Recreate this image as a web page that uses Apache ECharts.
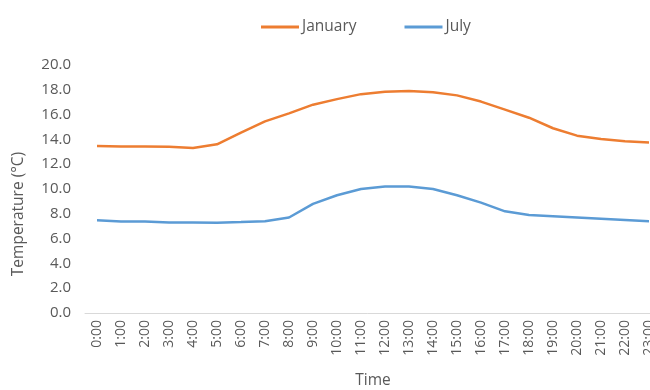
<!DOCTYPE html>
<html>
<head>
<meta charset="utf-8">
<script src="https://cdn.jsdelivr.net/npm/echarts@6/dist/echarts.min.js"></script>
<style>
  html, body { margin: 0; padding: 0; background: #ffffff; }
  #chart { width: 650px; height: 390px; }
</style>
</head>
<body>
<div id="chart"></div>
<script>
// Hourly temperatures (°C)
const hours = ['0:00','1:00','2:00','3:00','4:00','5:00','6:00','7:00','8:00','9:00','10:00','11:00',
               '12:00','13:00','14:00','15:00','16:00','17:00','18:00','19:00','20:00','21:00','22:00','23:00'];
const january = [13.47, 13.42, 13.43, 13.4, 13.3, 13.6, 14.55, 15.45, 16.1, 16.8, 17.25, 17.65,
                 17.85, 17.9, 17.8, 17.55, 17.05, 16.4, 15.75, 14.9, 14.3, 14.03, 13.85, 13.75];
const july = [7.47, 7.37, 7.37, 7.3, 7.3, 7.28, 7.33, 7.4, 7.7, 8.8, 9.5, 10.0,
              10.2, 10.2, 10.0, 9.5, 8.9, 8.2, 7.9, 7.8, 7.7, 7.6, 7.5, 7.4];

const textColor = '#595959';
const fontFamily = '"Open Sans", "Noto Sans", sans-serif';

const chart = echarts.init(document.getElementById('chart'), null, { renderer: 'canvas' });
chart.setOption({
  animation: false,
  textStyle: { fontFamily: fontFamily, color: textColor },
  legend: {
    top: 14,
    left: 256,
    itemWidth: 38,
    itemHeight: 3,
    itemGap: 48,
    icon: 'rect',
    textStyle: { fontSize: 15.5, color: textColor, fontFamily: fontFamily, padding: [0, 0, 0, -2] },
    data: ['January', 'July']
  },
  grid: { left: 85, top: 65, width: 576, height: 248, containLabel: false, outerBoundsMode: 'none' },
  xAxis: {
    type: 'category',
    data: hours,
    boundaryGap: true,
    name: 'Time',
    nameLocation: 'middle',
    nameGap: 60,
    nameTextStyle: { fontSize: 15.5, color: textColor, fontFamily: fontFamily },
    axisLine: { lineStyle: { color: '#D9D9D9', width: 1 } },
    axisTick: { show: false },
    axisLabel: { rotate: 90, interval: 0, margin: 7, fontSize: 14, color: textColor, fontFamily: fontFamily }
  },
  yAxis: {
    type: 'value',
    min: 0,
    max: 20,
    interval: 2,
    axisLine: { show: false },
    axisTick: { show: false },
    splitLine: { show: false },
    axisLabel: {
      margin: 14, fontSize: 15, color: textColor, fontFamily: fontFamily,
      formatter: v => v.toFixed(1)
    }
  },
  graphic: [{
    type: 'text',
    x: 19,
    y: 214,
    rotation: Math.PI / 2,
    style: {
      text: 'Temperature (°C)',
      fontSize: 15.5,
      fontFamily: fontFamily,
      fill: textColor,
      align: 'center',
      verticalAlign: 'middle'
    }
  }],
  series: [
    {
      name: 'January', type: 'line', data: january,
      symbol: 'none', lineStyle: { color: '#ED7D31', width: 2.5 }, itemStyle: { color: '#ED7D31' }
    },
    {
      name: 'July', type: 'line', data: july,
      symbol: 'none', lineStyle: { color: '#5B9BD5', width: 2.5 }, itemStyle: { color: '#5B9BD5' }
    }
  ]
});
</script>
</body>
</html>
